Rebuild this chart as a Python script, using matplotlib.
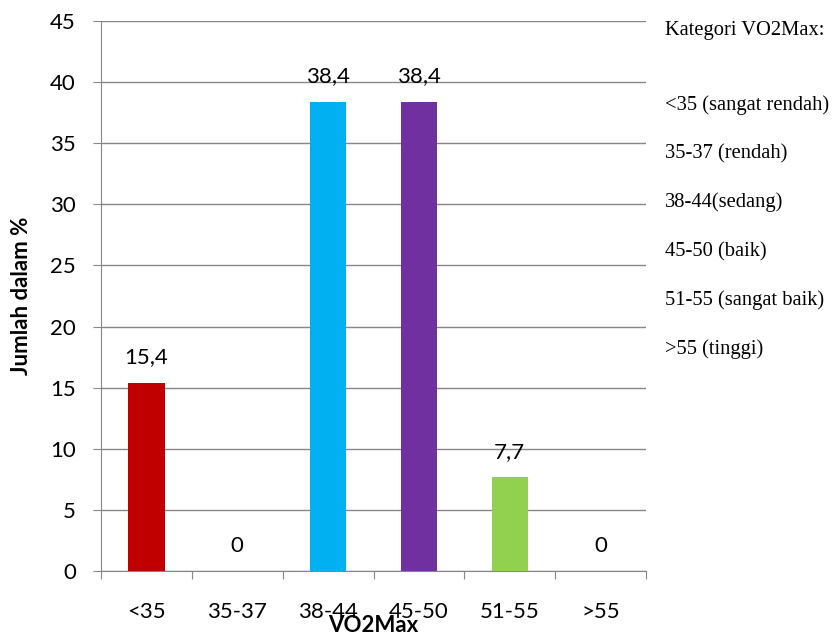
import matplotlib.pyplot as plt
import numpy as np

# data
categories = ['<35', '35-37', '38-44', '45-50', '51-55', '>55']
values = [15.4, 0, 38.4, 38.4, 7.7, 0]
colors = ['#C00000', '#C00000', '#00B0F0', '#7030A0', '#92D050', '#92D050']
legend_title = 'Kategori VO2Max:'
legend_items = ['<35 (sangat rendah)', '35-37 (rendah)', '38-44(sedang)',
                '45-50 (baik)', '51-55 (sangat baik)', '>55 (tinggi)']

plt.rcParams['font.family'] = ['Lato', 'DejaVu Sans']
fs = 16

fig = plt.figure(figsize=(8.39, 6.36), dpi=100)
ax = fig.add_axes([101 / 839, 65 / 636, 545 / 839, 550 / 636])

x = np.arange(len(categories))
ax.bar(x, values, width=0.4, color=colors, zorder=3)

for xi, v in zip(x, values):
    lab = ('%.1f' % v).replace('.', ',') if v else '0'
    ax.annotate(lab, (xi, v), xytext=(0, 11), textcoords='offset points',
                ha='center', va='bottom', fontsize=fs)

ax.set_xlim(-0.5, len(categories) - 0.5)
ax.set_ylim(0, 45)
ax.set_yticks(np.arange(0, 46, 5))
ax.set_xticks(np.arange(-0.5, len(categories), 1.0))
ax.set_xticklabels([])
ax.set_xticks(x, minor=True)
ax.set_xticklabels(categories, minor=True)
ax.tick_params(axis='x', which='minor', length=0, pad=22, labelsize=fs)
ax.tick_params(axis='x', which='major', length=6, color='#868686')
ax.tick_params(axis='y', length=6, color='#868686', labelsize=fs, pad=12)
ax.grid(axis='y', color='#868686', linewidth=1, zorder=0)

for s in ['top', 'right']:
    ax.spines[s].set_visible(False)
for s in ['left', 'bottom']:
    ax.spines[s].set_color('#868686')

ax.set_ylabel('Jumlah dalam %', fontsize=fs, fontweight='bold')
ax.yaxis.set_label_coords(-69 / 545, 0.5)
fig.text(373 / 839, 1 - 626 / 636, 'VO2Max', ha='center', va='center',
         fontsize=fs, fontweight='bold')

# legend text block
fig.text(665 / 839, 1 - 31 / 636, legend_title, family='Liberation Serif',
         fontsize=14.8, va='center', ha='left')
for i, item in enumerate(legend_items):
    fig.text(665 / 839, 1 - (105 + 48.8 * i) / 636, item, family='Liberation Serif',
             fontsize=14.8, va='center', ha='left')

fig.savefig('out.png', dpi=100)
